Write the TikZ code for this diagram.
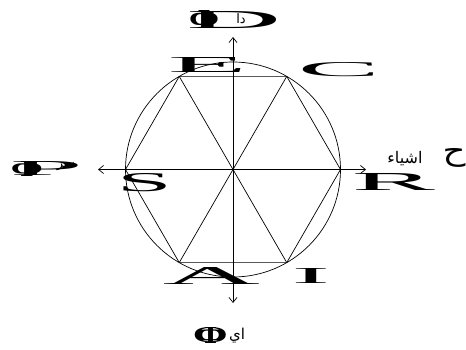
\documentclass[tikz,border=0pt]{standalone}
\usepackage{graphicx}
\usepackage{fontspec}
\setmainfont{Liberation Serif}
\newfontfamily\arabicfont[Script=Arabic]{DejaVu Sans}
\TeXXeTstate=1
\usetikzlibrary{arrows.meta}
\newcommand\strlet[3]{\resizebox{#1pt}{#2pt}{#3}}
\tikzset{
  thinline/.style={line width=0.7pt, black},
  axisarrow/.style={thinline, {Straight Barb[length=5pt,width=8pt]}-{Straight Barb[length=5pt,width=8pt]}},
  letter/.style={inner sep=0pt, outer sep=0pt, anchor=center},
  arlabel/.style={inner sep=0pt, font=\arabicfont\fontsize{13}{13}\selectfont},
}
\begin{document}
\begin{tikzpicture}[x=1pt,y=-1pt]
\useasboundingbox (0,0) rectangle (466,350);
\coordinate (O) at (233,169.5);
% hexagon vertices
\coordinate (v0) at (340.5,169.5);
\coordinate (v1) at (286.75,76.4);
\coordinate (v2) at (179.25,76.4);
\coordinate (v3) at (125.5,169.5);
\coordinate (v4) at (179.25,262.6);
\coordinate (v5) at (286.75,262.6);
% axis ends
\coordinate (axL) at (98,169.5);
\coordinate (axR) at (366,169.5);
\coordinate (axT) at (233,37);
\coordinate (axB) at (233,303);
% circle
\draw[thinline] (O) circle[radius=107.5];
% hexagon
\draw[thinline] (v0) -- (v1) -- (v2) -- (v3) -- (v4) -- (v5) -- cycle;
% diagonals
\draw[thinline] (v1) -- (v4);
\draw[thinline] (v2) -- (v5);
% axes
\draw[axisarrow] (axL) -- (axR);
\draw[axisarrow] (axB) -- (axT);
% letters
\node[letter] (E) at (207.5,65.5) {\strlet{79}{15}{E}};
\node[letter] (C) at (339,70) {\strlet{82}{14}{C}};
\node[letter] (S) at (144.5,183) {\strlet{55}{18}{S}};
\node[letter] (Rl) at (393.5,181.5) {\strlet{83}{17}{R}};
\node[letter] (A) at (211.5,275.5) {\strlet{97}{17}{A}};
\node[letter] (I) at (311,275.5) {\strlet{38}{15}{I}};
% top label
\node[letter] (topD) at (234,20) {\strlet{95}{17}{D}};
\node[letter] (topPhi) at (204,20) {\strlet{30}{18}{\bfseries Φ}};
\node[arlabel] (topAr) at (241,19) {\beginR دا\endR};
% left label
\node[letter] (leftP) at (46.5,169) {\strlet{73}{14}{P}};
\node[letter] (leftPhi) at (27,169) {\strlet{32}{15}{\bfseries Φ}};
\node[arlabel] (leftAr) at (66,167) {\beginR سر\endR};
% right label
\node[arlabel, font=\arabicfont\fontsize{16}{16}\selectfont] (rightAr) at (405,159) {\beginR اشياء\endR};
\node[letter] (rightH) at (454,158) {\strlet{23}{12}{\arabicfont\beginR ح\endR}};
% bottom label
\node[letter] (botO) at (210.5,335.5) {\strlet{35}{15}{O}};
\node[letter] (botPhi) at (210.5,335.5) {\strlet{30}{16}{\bfseries Φ}};
\node[arlabel, font=\arabicfont\fontsize{15}{15}\selectfont] (botAr) at (237,336) {\beginR اي\endR};
\end{tikzpicture}
\end{document}
